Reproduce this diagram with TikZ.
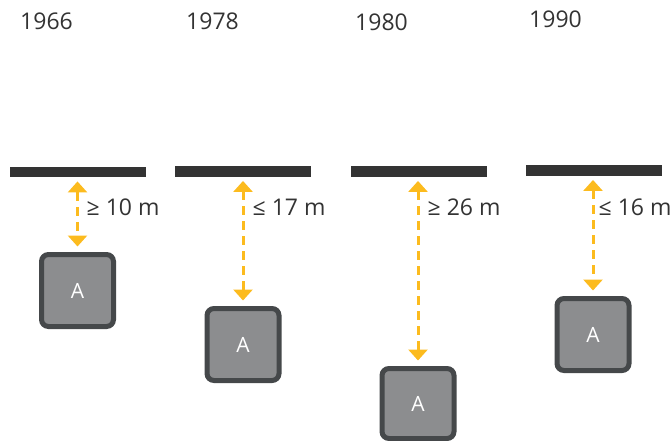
\documentclass[tikz,border=0pt]{standalone}
\usepackage{fontspec}
\setmainfont{Open Sans}
\usetikzlibrary{arrows.meta}
\definecolor{barcol}{HTML}{333333}
\definecolor{boxfill}{HTML}{8C8D8F}
\definecolor{boxline}{HTML}{45484A}
\definecolor{amber}{HTML}{FCBB1E}
\definecolor{txt}{HTML}{333333}
\tikzset{
  ceiling/.style={rectangle, inner sep=0pt, minimum width=136pt, minimum height=10.5pt, fill=barcol},
  objbox/.style={rectangle, rounded corners=7pt, line width=5pt, draw=boxline, fill=boxfill,
    inner sep=0pt, minimum width=72pt, minimum height=72pt, text=white,
    font=\fontsize{21}{21}\selectfont},
  dimarrow/.style={amber, line width=3pt, dash pattern=on 9pt off 6pt,
    {Triangle[width=19pt,length=11pt]}-{Triangle[width=19pt,length=11pt]},
    shorten <=4pt, shorten >=5.5pt},
  dimlabel/.style={anchor=base west, inner sep=0pt, text=txt, font=\fontsize{23}{23}\selectfont},
  yearlabel/.style={anchor=base west, inner sep=0pt, text=txt, font=\fontsize{23}{23}\selectfont}
}
\begin{document}
\begin{tikzpicture}[x=1pt, y=-1pt]
  \useasboundingbox (0,0) rectangle (672,441);

  % years
  \node[yearlabel] (y1) at (20,30) {1966};
  \node[yearlabel] (y2) at (186,30) {1978};
  \node[yearlabel] (y3) at (355,31) {1980};
  \node[yearlabel] (y4) at (529,28) {1990};

  % ceilings
  \node[ceiling] (bar1) at (77.5,172) {};
  \node[ceiling] (bar2) at (243,171.5) {};
  \node[ceiling] (bar3) at (418.5,171.5) {};
  \node[ceiling] (bar4) at (594,170.5) {};

  % objects
  \node[objbox] (box1) at (77.5,290.5) {A};
  \node[objbox] (box2) at (243,344.5) {A};
  \node[objbox, minimum height=70pt] (box3) at (418,403.5) {A};
  \node[objbox] (box4) at (593,334.5) {A};

  % distances
  \draw[dimarrow] (bar1.south -| box1.north) -- (box1.north);
  \draw[dimarrow] (bar2.south -| box2.north) -- (box2.north);
  \draw[dimarrow] (bar3.south -| box3.north) -- (box3.north);
  \draw[dimarrow] (bar4.south -| box4.north) -- (box4.north);

  \node[dimlabel] (d1) at (86.5,215.5) {≥ 10 m};
  \node[dimlabel] (d2) at (252.5,215.5) {≤ 17 m};
  \node[dimlabel] (d3) at (427.5,215.5) {≥ 26 m};
  \node[dimlabel] (d4) at (598.5,215) {≤ 16 m};
\end{tikzpicture}
\end{document}
